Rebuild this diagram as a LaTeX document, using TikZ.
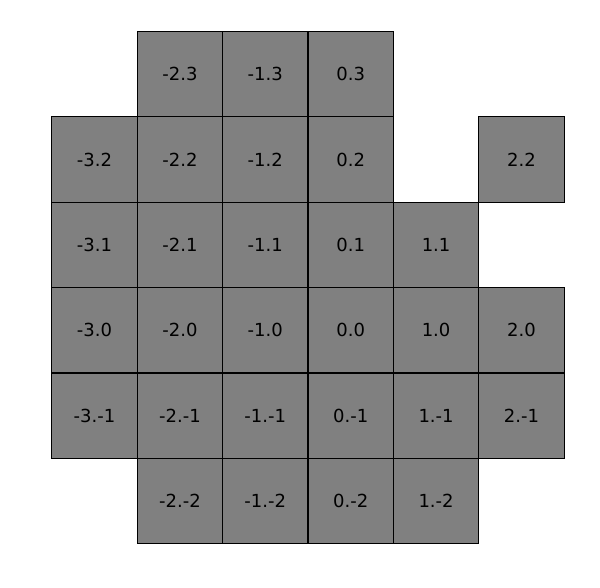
\documentclass[tikz,border=0pt]{standalone}
\usepackage{fontspec}
\setmainfont{DejaVu Sans}
\usetikzlibrary{positioning}

\begin{document}
\begin{tikzpicture}[x=64.05pt, y=64.05pt, every node/.style={font=\fontsize{13.5}{16}\selectfont}, cell/.style={draw, fill=gray, line width=0.9pt, minimum size=64.05pt, inner sep=0pt}]
\useasboundingbox (-231pt,-161.25pt) rectangle (219pt,279.75pt);
\foreach \i/\j in {-2/3,-1/3,0/3,
  -3/2,-2/2,-1/2,0/2,2/2,
  -3/1,-2/1,-1/1,0/1,1/1,
  -3/0,-2/0,-1/0,0/0,1/0,2/0,
  -3/-1,-2/-1,-1/-1,0/-1,1/-1,2/-1,
  -2/-2,-1/-2,0/-2,1/-2}
  \node[cell] (c\i\j) at (\i+0.5,\j+0.5) {\i.\j};
\end{tikzpicture}
\end{document}
